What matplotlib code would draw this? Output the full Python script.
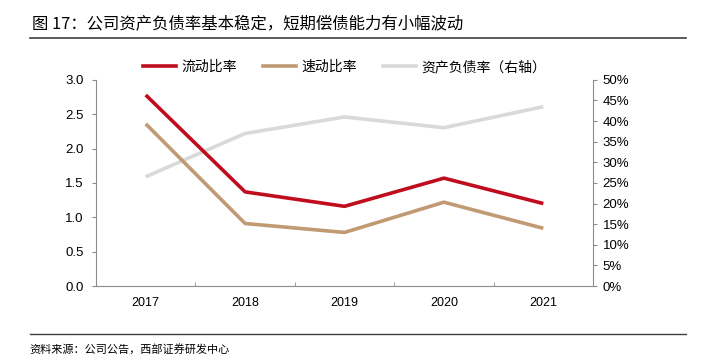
import matplotlib
matplotlib.use('Agg')
import matplotlib.pyplot as plt
from matplotlib.lines import Line2D
from matplotlib.ticker import FuncFormatter

plt.rcParams['font.family'] = ['Liberation Sans', 'Noto Sans CJK SC']

# data
years = ['2017', '2018', '2019', '2020', '2021']
current_ratio = [2.78, 1.37, 1.16, 1.57, 1.20]
quick_ratio = [2.36, 0.91, 0.78, 1.22, 0.84]
debt_ratio = [26.5, 37.0, 41.0, 38.4, 43.5]

red = '#C00D1E'
tan = '#C19A74'
grey = '#D9D9D9'
spine_c = '#8C8C8C'

fig = plt.figure(figsize=(7.06, 3.63), dpi=100)
ax = fig.add_axes([0.136, 0.212, 0.704, 0.568])
ax2 = ax.twinx()

x = list(range(len(years)))
ax2.plot(x, debt_ratio, color=grey, lw=2.6, solid_capstyle='butt')
ax.plot(x, current_ratio, color=red, lw=2.6, solid_capstyle='butt')
ax.plot(x, quick_ratio, color=tan, lw=2.6, solid_capstyle='butt')
ax.set_zorder(ax2.get_zorder() + 1)
ax.patch.set_visible(False)

ax.set_xlim(-0.5, len(years) - 0.5)
ax.set_ylim(0, 3.0)
ax.set_yticks([0, 0.5, 1.0, 1.5, 2.0, 2.5, 3.0])
ax.yaxis.set_major_formatter(FuncFormatter(lambda v, p: f'{v:.1f}'))
ax2.set_ylim(0, 50)
ax2.set_yticks(range(0, 51, 5))
ax2.yaxis.set_major_formatter(FuncFormatter(lambda v, p: f'{v:.0f}%'))

ax.set_xticks(x)
ax.set_xticklabels(years)
ax.set_xticks([i + 0.5 for i in x[:-1]], minor=True)
ax.tick_params(axis='x', which='major', length=0, pad=8, labelsize=9)
ax.tick_params(axis='x', which='minor', length=3, direction='in', color=spine_c)
ax.tick_params(axis='y', length=3, color=spine_c, labelsize=9.5, pad=6)
ax2.tick_params(axis='y', length=3, color=spine_c, labelsize=9.5, pad=4)

for a in (ax, ax2):
    a.spines['top'].set_visible(False)
    for s in ('left', 'right', 'bottom'):
        a.spines[s].set_color(spine_c)
        a.spines[s].set_linewidth(0.8)
ax.spines['right'].set_visible(False)
ax2.spines['left'].set_visible(False)
ax2.spines['bottom'].set_visible(False)

handles = [Line2D([], [], color=red, lw=2.6),
           Line2D([], [], color=tan, lw=2.6),
           Line2D([], [], color=grey, lw=2.6)]
labels = ['流动比率', '速动比率', '资产负债率（右轴）']
fig.legend(handles, labels, loc='center', bbox_to_anchor=(0.488, 0.815), ncol=3,
           frameon=False, handlelength=2.4, columnspacing=1.9,
           handletextpad=0.35, prop={'family': ['Noto Sans CJK SC'], 'size': 10})

fig.text(0.045, 0.935, '图 17：公司资产负债率基本稳定，短期偿债能力有小幅波动',
         fontsize=11.8, va='center', ha='left', family=['Noto Sans CJK SC'])
fig.add_artist(Line2D([0.042, 0.972], [0.895, 0.895], color='#404040', lw=1.2))
fig.add_artist(Line2D([0.042, 0.972], [0.08, 0.08], color='#404040', lw=1.0))
fig.text(0.042, 0.038, '资料来源：公司公告，西部证券研发中心', fontsize=8,
         va='center', ha='left', family=['Noto Sans CJK SC'])

fig.savefig('out.png', dpi=100)
